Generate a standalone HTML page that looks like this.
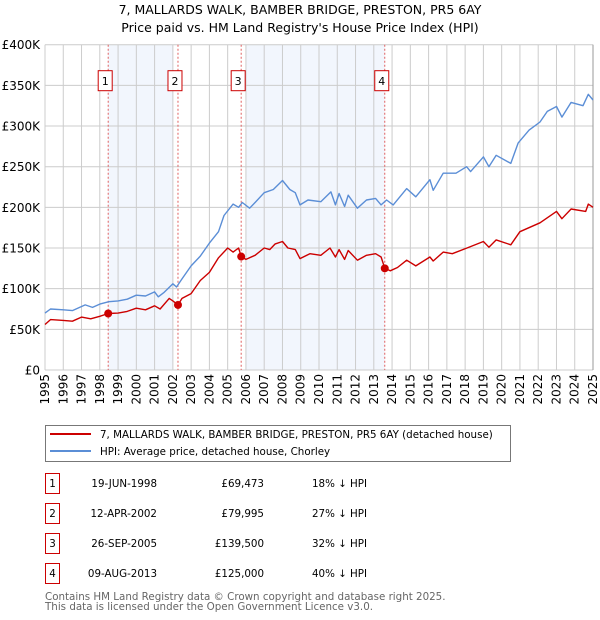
<!DOCTYPE html>
<html><head><meta charset="utf-8">
<style>
body{margin:0;background:#fff;font-family:"DejaVu Sans","Liberation Sans",sans-serif;}
#wrap{position:relative;width:600px;height:620px;overflow:hidden;}
</style></head><body>
<div id="wrap">
<svg id="chart" width="600" height="620" style="position:absolute;left:0;top:0"></svg>
</div>
<script>
const years=[1995,1996,1997,1998,1999,2000,2001,2002,2003,2004,2005,2006,2007,2008,2009,2010,2011,2012,2013,2014,2015,2016,2017,2018,2019,2020,2021,2022,2023,2024,2025];
const yTicks=[0,50000,100000,150000,200000,250000,300000,350000,400000];
const yTickLabels=["£0","£50K","£100K","£150K","£200K","£250K","£300K","£350K","£400K"];
const hpiT=[1995.0,1995.3,1996.0,1996.5,1997.2,1997.6,1998.0,1998.5,1999.0,1999.5,2000.0,2000.5,2001.0,2001.2,2001.5,2002.0,2002.2,2002.5,2003.0,2003.5,2004.0,2004.5,2004.8,2005.3,2005.6,2005.8,2006.2,2006.5,2007.0,2007.5,2008.0,2008.4,2008.7,2008.96,2009.4,2010.1,2010.65,2010.9,2011.1,2011.4,2011.6,2012.1,2012.6,2013.1,2013.4,2013.7,2014.06,2014.8,2015.3,2016.07,2016.25,2016.8,2017.5,2018.08,2018.3,2019.0,2019.3,2019.7,2020.5,2020.9,2021.5,2022.1,2022.5,2023.0,2023.3,2023.8,2024.45,2024.74,2025.0];
const hpiV=[70,75,74,73,80,77,81,84,85,87,92,91,96,90,95,106,102,112,128,140,156,170,190,204,200,206,199,206,218,222,233,222,218,203,209,207,219,203,217,201,215,199,209,211,203,209,203,223,213,234,221,242,242,250,244,262,250,264,254,279,295,305,318,324,311,329,325,339,332];
const propT=[1995.0,1995.3,1996.0,1996.5,1997.0,1997.5,1998.0,1998.46,1999.0,1999.5,2000.0,2000.5,2001.0,2001.3,2001.8,2002.0,2002.28,2002.5,2003.0,2003.5,2004.0,2004.5,2005.0,2005.3,2005.6,2005.74,2006.0,2006.5,2007.0,2007.3,2007.6,2008.0,2008.3,2008.7,2008.96,2009.5,2010.1,2010.6,2010.9,2011.1,2011.4,2011.6,2012.1,2012.6,2013.1,2013.4,2013.6,2013.9,2014.3,2014.8,2015.3,2016.07,2016.25,2016.8,2017.3,2018.1,2019.0,2019.3,2019.7,2020.5,2021.0,2022.1,2023.0,2023.3,2023.8,2024.6,2024.74,2025.0];
const propV=[56,62,61,60,65,63,66,69.5,70,72,76,74,79,75,88,85,80,88,94,110,120,138,150,145,150,139.5,136,141,150,148,155,158,150,148,137,143,141,150,139,148,136,147,135,141,143,139,125,122,126,135,128,139,134,145,143,150,158,151,160,154,170,181,195,186,198,195,204,200];
const saleLabels=["1","2","3","4"];
const saleT=[1998.46,2002.28,2005.74,2013.6];
const saleV=[69473,79995,139500,125000];
const saleDates=["19-JUN-1998","12-APR-2002","26-SEP-2005","09-AUG-2013"];
const salePrices=["£69,473","£79,995","£139,500","£125,000"];
const saleHpi=["18% ↓ HPI","27% ↓ HPI","32% ↓ HPI","40% ↓ HPI"];
const shadeStart=[1998.46,2006.0];
const shadeEnd=[2002.0,2013.6];

const X0=45,X1=593,Y0=370,Y1=44.7;
const xs=t=>X0+(t-1995)/30*(X1-X0);
const ys=v=>Y0-v/400000*(Y0-Y1);
const svg=document.getElementById('chart');
const NS='http://www.w3.org/2000/svg';
function mk(tag,attrs,parent){const e=document.createElementNS(NS,tag);for(const k in attrs)e.setAttribute(k,attrs[k]);(parent||svg).appendChild(e);return e;}

for(let i=0;i<shadeStart.length;i++){
 const r=mk('rect',{x:xs(shadeStart[i]),y:Y1,width:xs(shadeEnd[i])-xs(shadeStart[i]),height:Y0-Y1,fill:'#f2f6fd'});
 
 
}
years.forEach((y,i)=>{
 const l=mk('line',{x1:xs(y),x2:xs(y),y1:Y1,y2:Y0,stroke:'#cccccc','stroke-width':1});
 
 
 const tx=mk('text',{x:0,y:0,transform:`translate(${xs(y)+4},${Y0+4}) rotate(-90)`,'text-anchor':'end','font-size':12,fill:'#000'});
 tx.textContent=y;
 
 
});
yTicks.forEach((v,i)=>{
 const l=mk('line',{x1:X0,x2:X1,y1:ys(v),y2:ys(v),stroke:'#cccccc','stroke-width':1});
 
 
 const tx=mk('text',{x:40,y:ys(v)+4.5,'text-anchor':'end','font-size':12,fill:'#000'});
 tx.textContent=yTickLabels[i];
 
 
});
const ax=mk('line',{x1:X1,x2:X1,y1:Y1,y2:Y0,stroke:'#999','stroke-width':1});



saleT.forEach((t,i)=>{
 const l=mk('line',{x1:xs(t),x2:xs(t),y1:Y1,y2:Y0,stroke:'#e06060','stroke-width':1,'stroke-dasharray':'2,2'});
 
 
});

function poly(T,V,color,name){
 const p=T.map((t,i)=>xs(t).toFixed(1)+','+ys(V[i]*1000).toFixed(1)).join(' ');
 const e=mk('polyline',{points:p,fill:'none',stroke:color,'stroke-width':1.4,'stroke-linejoin':'round'});
 
 
}
poly(hpiT,hpiV,'#5b8ed6','hpi-line');
poly(propT,propV,'#cc0000','property-price-line');

saleT.forEach((t,i)=>{
 const c=mk('circle',{cx:xs(t),cy:ys(saleV[i]),r:4,fill:'#cc0000'});
 
 
 const g=mk('g',{});
 
 
 const cx=xs(t)-3;
 mk('rect',{x:cx-7,y:70.7,width:14,height:20,fill:'#fff',stroke:'#cc0000','stroke-width':1},g);
 const tx=mk('text',{x:cx,y:85,'text-anchor':'middle','font-size':11,fill:'#000'},g);
 tx.textContent=saleLabels[i];
});

function txt(x,y,s,attrs,name){const e=mk('text',Object.assign({x:x,y:y,'font-size':12,fill:'#000'},attrs||{}));e.textContent=s;return e;}
txt(300,14,"7, MALLARDS WALK, BAMBER BRIDGE, PRESTON, PR5 6AY",{'text-anchor':'middle','font-size':12.5},'chart-title');
txt(300,32,"Price paid vs. HM Land Registry's House Price Index (HPI)",{'text-anchor':'middle','font-size':12.5},'chart-subtitle');

const lg=mk('g',{});


mk('rect',{x:45.5,y:425.5,width:465,height:36,fill:'#fff',stroke:'#777','stroke-width':1},lg);
mk('line',{x1:50,x2:91,y1:434,y2:434,stroke:'#cc0000','stroke-width':2},lg);
mk('line',{x1:50,x2:91,y1:451,y2:451,stroke:'#5b8ed6','stroke-width':2},lg);
txt(100,438,"7, MALLARDS WALK, BAMBER BRIDGE, PRESTON, PR5 6AY (detached house)",{'font-size':10.3},'legend-entry-property');
txt(100,455,"HPI: Average price, detached house, Chorley",{'font-size':10.3},'legend-entry-hpi');

saleT.forEach((t,i)=>{
 const y=483+30*i;
 const r=mk('rect',{x:45.5,y:y-9.5,width:14,height:20,fill:'#fff',stroke:'#cc0000','stroke-width':1});
 
 
 txt(52.5,y+4,saleLabels[i],{'text-anchor':'middle','font-size':10.3},'table-row-number');
 txt(157,y+4,saleDates[i],{'text-anchor':'end','font-size':10.3},'table-sale-date');
 txt(264,y+4,salePrices[i],{'text-anchor':'end','font-size':10.3},'table-sale-price');
 txt(312,y+4,saleHpi[i],{'font-size':10.3},'table-hpi-diff');
});
txt(45,600,"Contains HM Land Registry data © Crown copyright and database right 2025.",{'font-size':10.3,fill:'#666'},'footer-copyright');
txt(45,610,"This data is licensed under the Open Government Licence v3.0.",{'font-size':10.3,fill:'#666'},'footer-licence');
</script>
</body></html>
